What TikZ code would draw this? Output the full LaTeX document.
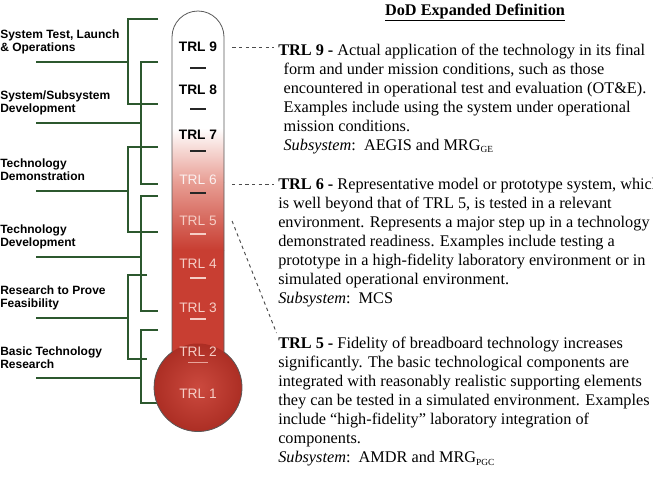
\documentclass[tikz,border=0pt]{standalone}
\usepackage{fontspec}
\setmainfont{Liberation Serif}
\setsansfont{Liberation Sans}
\usepackage{tikz}
\usetikzlibrary{positioning,calc}
\usepackage{xcolor}
\definecolor{trlgreen}{RGB}{44,88,46}
\definecolor{trlred}{RGB}{200,62,50}
\definecolor{trldark}{RGB}{172,46,36}
\definecolor{trlpink}{RGB}{232,158,148}
\definecolor{trlpale}{RGB}{246,206,198}
\newcommand\defnfont{\fontsize{12.2}{14.25}\selectfont}
\newcommand\phasefont{\sffamily\bfseries\fontsize{9}{9.75}\selectfont}

\begin{document}
\begin{tikzpicture}[x=0.75pt,y=-0.75pt,
  phase/.style={font=\phasefont,align=left,anchor=north west,inner sep=0pt},
  bracket/.style={draw=trlgreen,line width=1.5pt},
  trlhi/.style={font=\sffamily\bfseries\fontsize{10.3}{12}\selectfont,text=black},
  trllo/.style={font=\sffamily\fontsize{10.3}{12}\selectfont,text=trlpale},
  defn/.style={font=\defnfont,align=left,anchor=north west,inner sep=0pt},
  defline/.style={draw=gray!60!black,line width=0.7pt,dash pattern=on 2.5pt off 2.5pt,shorten >=3pt}]
\clip (0,0) rectangle (653,476);
\fill[white] (0,0) rectangle (653,476);
\node[phase] (ph1) at (0,30) {System Test, Launch\\\& Operations};
\node[phase] (ph2) at (0,91) {System/Subsystem\\Development};
\node[phase] (ph3) at (0,159) {Technology\\Demonstration};
\node[phase] (ph4) at (0,225) {Technology\\Development};
\node[phase] (ph5) at (0,286) {Research to Prove\\Feasibility};
\node[phase] (ph6) at (0,347) {Basic Technology\\Research};
\foreach \x/\t/\b/\m/\e in {128/19/104/62/158,141/62/184/123/158,128/147/232/191/158,
                          141/196/311/257/158,128/275/359/318/147,141/330/403/378/158}
  \draw[bracket] (\e,\t) -- (\x,\t) -- (\x,\b) -- (\e,\b) (36,\m) -- (\x,\m);
\begin{scope}
\clip (172,352) -- (172,37) arc[start angle=180,end angle=360,radius=26] -- (224,352)
      arc[start angle=306.2,end angle=593.8,radius=44] -- cycle;
\fill[white] (150,0) rectangle (250,128);
\shade[top color=white,bottom color=trlpink] (150,128) rectangle (250,182);
\shade[top color=trlpink,bottom color=trlred] (150,182) rectangle (250,250);
\fill[trlred] (150,250) rectangle (250,440);
\shade[inner color=trlred!94!white,outer color=trldark] (198,387.5) circle[radius=44];
\end{scope}
\draw[gray!70!black,line width=0.6pt] (172,352) -- (172,37) arc[start angle=180,end angle=360,radius=26]
      -- (224,352) arc[start angle=306.2,end angle=593.8,radius=44] -- cycle;
\foreach \n/\y in {9/47,8/90,7/135}
  \node[trlhi] (t\n) at (198,\y) {TRL \n};
\node[trllo,text=white!85!trlpink] (t6) at (198,180) {TRL 6};
\foreach \n/\y in {5/221,4/264,3/308,2/352,1/394}
  \node[trllo] (t\n) at (198,\y) {TRL \n};
\foreach \y in {68,109,151,193}
  \draw[black!85,line width=1.4pt] (190,\y) -- (206,\y);
\foreach \y in {234,278,319}
  \draw[trlpale,line width=1pt] (190,\y) -- (206,\y);
\draw[trlpale!70!trlred,line width=0.5pt] (188,362) -- (208,362);
\node[font=\defnfont\bfseries,anchor=base] (title) at (475,15) {\underline{DoD Expanded Definition}};
\node[defn] (d9) at (278,43.5) {\textbf{TRL 9 -} Actual application of the technology in its final\\
\hspace*{4pt}form and under mission conditions, such as those\\
\hspace*{4pt}encountered in operational test and evaluation (OT\&E).\\
\hspace*{4pt}Examples include using the system under operational\\
\hspace*{4pt}mission conditions.\\
\hspace*{4pt}\textit{Subsystem}:\ \ AEGIS and MRG{\fontsize{7}{8}\selectfont\raisebox{-2pt}{GE}}};
\node[defn] (d6) at (278,177.7) {\textbf{TRL 6 -} Representative model or prototype system, which\\
is well beyond that of TRL 5, is tested in a relevant\\
environment. Represents a major step up in a technology\\
demonstrated readiness. Examples include testing a\\
prototype in a high-fidelity laboratory environment or in\\
simulated operational environment.\\
\textit{Subsystem}:\ \ MCS};
\node[defn] (d5) at (278,336.7) {\textbf{TRL 5 -} Fidelity of breadboard technology increases\\
significantly. The basic technological components are\\
integrated with reasonably realistic supporting elements\\
they can be tested in a simulated environment. Examples\\
include ``high-fidelity'' laboratory integration of\\
components.\\
\textit{Subsystem}:\ \ AMDR and MRG{\fontsize{7}{8}\selectfont\raisebox{-2pt}{PGC}}};
\draw[defline] ([xshift=8pt]t9.east) -- (t9 -| d9.west);
\draw[defline] ([xshift=8pt,yshift=-3pt]t6.east) -- ([yshift=-3pt]t6 -| d6.west);
\draw[defline] ([xshift=8pt]t5.east) -- (d5.north west);
\end{tikzpicture}
\end{document}
